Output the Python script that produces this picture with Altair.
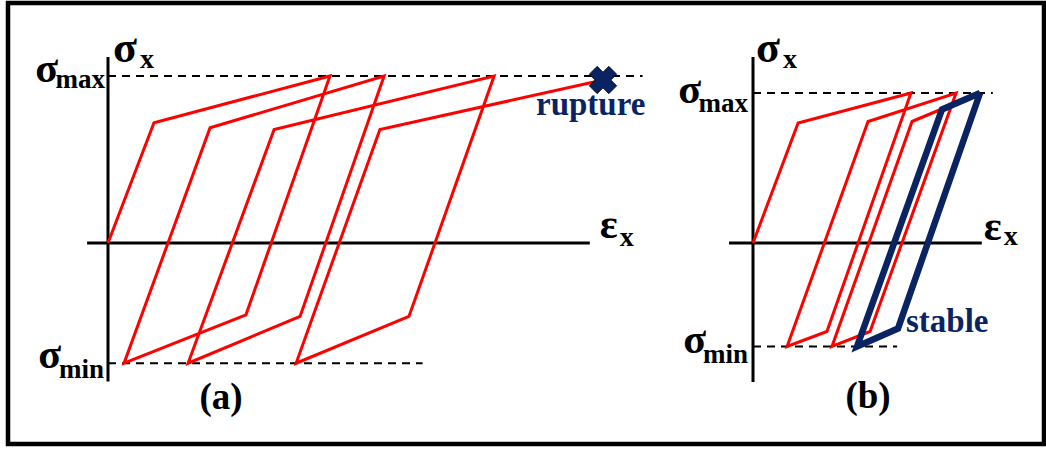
import altair as alt
import pandas as pd

# ---------------- data ----------------
# Panel (a): stress-controlled cycling with ratcheting up to rupture
# (strain in arbitrary units, stress normalised by sigma_max)
a_strain = [0.0, 0.209, 1.009, 0.627, 0.073, 0.464, 1.255, 0.873, 0.364,
            0.755, 1.755, 1.368, 0.855, 1.236, 2.25]
a_stress = [0.0, 0.72, 1.0, -0.43, -0.72, 0.69, 1.0, -0.44, -0.72,
            0.68, 1.0, -0.44, -0.72, 0.68, 0.976]
a_sigma_max = 1.0
a_sigma_min = -0.72

# Panel (b): cycling that settles into a stable (shakedown) loop
b_strain = [0.0, 0.205, 0.718, 0.336, 0.155, 0.523, 0.923, 0.532, 0.359,
            0.723, 1.032]
b_stress = [0.0, 0.80, 1.0, -0.59, -0.69, 0.81, 1.0, -0.59, -0.69,
            0.81, 1.0]
b_loop_strain = [1.032, 0.659, 0.473, 0.859, 1.032]
b_loop_stress = [1.0, -0.57, -0.69, 0.89, 1.0]
b_sigma_max = 1.0
b_sigma_min = -0.69

# ---------------- layout ----------------
W, H = 1036, 441           # framed drawing area
PAD_L, PAD_T = 8, 3
RED = "#ff0000"
NAVY = "#0a2463"
FONT = "Liberation Serif"


def scales(origin, unit):
    """Linear scales placing the panel origin at a given spot of the frame."""
    ox, oy = origin
    ux, uy = unit
    xdom = [(PAD_L - ox) / ux, (PAD_L + W - ox) / ux]
    ydom = [(oy - PAD_T - H) / uy, (oy - PAD_T) / uy]
    xs = alt.Scale(domain=xdom, nice=False, zero=False)
    ys = alt.Scale(domain=ydom, nice=False, zero=False)
    return xs, ys


def panel(strain, stress, smax, smin, ext, origin, unit, extra, labels):
    xs, ys = scales(origin, unit)
    X = lambda f: alt.X(f, type="quantitative", scale=xs, axis=None)
    Y = lambda f: alt.Y(f, type="quantitative", scale=ys, axis=None)

    x_lo, x_hi, y_lo, y_hi, max_end, min_end = ext
    path = pd.DataFrame({"e": strain, "s": stress, "i": range(len(strain))})

    limits = pd.DataFrame({"e0": [0.0, 0.0], "e1": [max_end, min_end],
                           "s": [smax, smin]})
    dashed = alt.Chart(limits).mark_rule(
        color="black", strokeWidth=2, strokeDash=[8, 6]
    ).encode(x=X("e0"), x2="e1", y=Y("s"))

    axes_h = alt.Chart(pd.DataFrame({"e0": [x_lo], "e1": [x_hi], "s": [0.0]})).mark_rule(
        color="black", strokeWidth=3
    ).encode(x=X("e0"), x2="e1", y=Y("s"))
    axes_v = alt.Chart(pd.DataFrame({"e": [0.0], "s0": [y_lo], "s1": [y_hi]})).mark_rule(
        color="black", strokeWidth=3
    ).encode(x=X("e"), y=Y("s0"), y2="s1")

    curve = alt.Chart(path).mark_line(
        color=RED, strokeWidth=3, strokeJoin="miter"
    ).encode(x=X("e"), y=Y("s"), order="i:Q")

    layers = [dashed, axes_h, axes_v, curve]
    for build in extra:
        layers.append(build(X, Y))

    for (e, s, txt, size, align, dx, dy, color) in labels:
        layers.append(
            alt.Chart(pd.DataFrame({"e": [e], "s": [s]})).mark_text(
                text=txt, font=FONT, fontWeight="bold", fontSize=size,
                align=align, baseline="alphabetic", dx=dx, dy=dy, color=color
            ).encode(x=X("e"), y=Y("s"))
        )
    return alt.layer(*layers)


# ----- panel (a) -----
a_ext = (-0.095, 2.19, -0.83, 1.114, 2.43, 1.43)
rupture = pd.DataFrame({"e": [a_strain[-1]], "s": [a_stress[-1]]})


def rupture_mark(X, Y):
    return alt.Chart(rupture).mark_point(
        shape="cross", angle=45, filled=True, size=760, fill=NAVY,
        stroke="black", strokeWidth=0.8, opacity=1
    ).encode(x=X("e"), y=Y("s"))


a_labels = [
    (0.0, a_ext[3], "σ", 44, "left", 5, 5, "black"),
    (0.0, a_ext[3], "x", 28, "left", 32, 11, "black"),
    (0.0, a_sigma_max, "σ", 42, "right", -50, 6, "black"),
    (0.0, a_sigma_max, "max", 27, "right", -3, 12, "black"),
    (0.0, a_sigma_min, "σ", 42, "right", -47, 5, "black"),
    (0.0, a_sigma_min, "min", 27, "right", -4, 15, "black"),
    (a_ext[1], 0.0, "ε", 42, "left", 10, -5, "black"),
    (a_ext[1], 0.0, "x", 28, "left", 30, 3, "black"),
    (a_strain[-1], a_stress[-1], "rupture", 33, "left", -67, 35, NAVY),
    (0.514, a_sigma_min, "(a)", 37, "center", 0, 46, "black"),
]

panel_a = panel(a_strain, a_stress, a_sigma_max, a_sigma_min, a_ext,
                (108, 243), (220, 167), [rupture_mark], a_labels)

# ----- panel (b) -----
b_ext = (-0.109, 1.04, -0.927, 1.24, 1.09, 0.655)
loop = pd.DataFrame({"e": b_loop_strain, "s": b_loop_stress,
                     "i": range(len(b_loop_strain))})


def stable_loop(X, Y):
    return alt.Chart(loop).mark_line(
        color=NAVY, strokeWidth=6.5, strokeJoin="miter"
    ).encode(x=X("e"), y=Y("s"), order="i:Q")


b_labels = [
    (0.0, b_ext[3], "σ", 44, "left", 3, 5, "black"),
    (0.0, b_ext[3], "x", 28, "left", 30, 11, "black"),
    (0.0, b_sigma_max, "σ", 42, "right", -52, 10, "black"),
    (0.0, b_sigma_max, "max", 27, "right", -5, 19, "black"),
    (0.0, b_sigma_min, "σ", 42, "right", -47, 6, "black"),
    (0.0, b_sigma_min, "min", 27, "right", -5, 16, "black"),
    (b_ext[1], 0.0, "ε", 42, "left", 2, -3, "black"),
    (b_ext[1], 0.0, "x", 28, "left", 22, 2, "black"),
    (b_loop_strain[1], b_loop_stress[1], "stable", 33, "left", 8, 3, NAVY),
    (0.523, b_sigma_min, "(b)", 37, "center", 0, 61, "black"),
]

panel_b = panel(b_strain, b_stress, b_sigma_max, b_sigma_min, b_ext,
                (753, 243), (220, 150), [stable_loop], b_labels)

chart = alt.layer(panel_a, panel_b).resolve_scale(
    x="independent", y="independent"
).properties(
    width=W, height=H,
    padding={"left": PAD_L, "top": PAD_T, "right": 1046 - PAD_L - W, "bottom": 450 - PAD_T - H},
    autosize=alt.AutoSizeParams(type="none"),
    background="white",
).configure_view(stroke="black", strokeWidth=4.5)

chart.save("out.html", embed_options={"renderer": "svg", "actions": False})
